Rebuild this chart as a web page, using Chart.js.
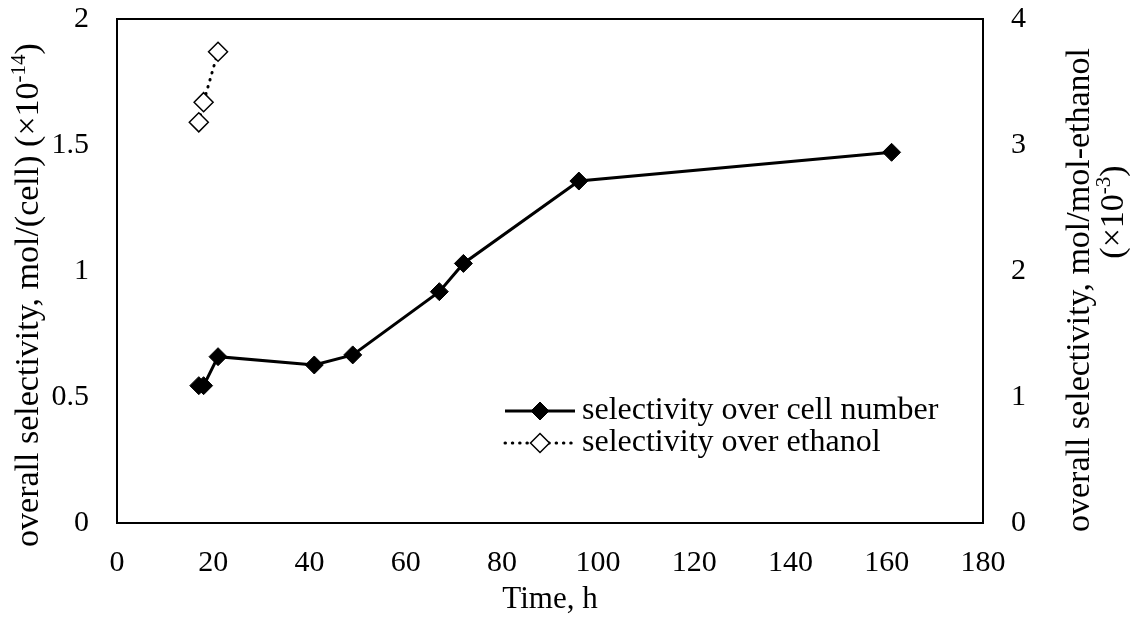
<!DOCTYPE html>
<html>
<head>
<meta charset="utf-8">
<script src="https://cdn.jsdelivr.net/npm/chart.js@4.4.1/dist/chart.umd.min.js"></script>
<style>
  html, body { margin: 0; padding: 0; background: #fff; }
  #wrap { width: 1130px; height: 627px; }
</style>
</head>
<body>
<div id="wrap"><canvas id="c" width="1130" height="627"></canvas></div>
<script>
// ---- data ----
const cellTime = [17, 18, 21, 41, 49, 67, 72, 96, 161];
const cellSel = [0.545, 0.545, 0.66, 0.627, 0.667, 0.918, 1.03, 1.357, 1.471];
const ethTime = [17, 18, 21];
const ethSel = [3.18, 3.34, 3.74];
const xTicks = [0, 20, 40, 60, 80, 100, 120, 140, 160, 180];
const yTicks = [0, 0.5, 1, 1.5, 2];
const y2Ticks = [0, 1, 2, 3, 4];
const seriesNames = ['selectivity over cell number', 'selectivity over ethanol'];
const xTitle = 'Time, h';
const yTitle = [{t: 'overall selectivity, mol/(cell) (\u00d710'}, {t: '-14', sup: true}, {t: ')'}];
const y2Title1 = [{t: 'overall selectivity, mol/mol-ethanol'}];
const y2Title2 = [{t: '(\u00d710'}, {t: '-3', sup: true}, {t: ')'}];

const FONT = '"Liberation Serif", "Times New Roman", serif';
const TICK_FS = 30;

function richWidth(ctx, segs, fs) {
  let w = 0;
  segs.forEach(s => {
    ctx.font = (s.sup ? Math.round(fs * 0.62) : fs) + 'px ' + FONT;
    w += ctx.measureText(s.t).width;
  });
  return w;
}
function drawRich(ctx, segs, cx, cy, fs) {
  const w = richWidth(ctx, segs, fs);
  let x = cx - w / 2;
  ctx.textAlign = 'left';
  ctx.textBaseline = 'alphabetic';
  const base = cy + fs * 0.33;
  segs.forEach(s => {
    const f = s.sup ? Math.round(fs * 0.62) : fs;
    ctx.font = f + 'px ' + FONT;
    ctx.fillText(s.t, x, s.sup ? base - fs * 0.38 : base);
    x += ctx.measureText(s.t).width;
  });
}

const decor = {
  id: 'decor',
  afterDraw(chart) {
    const ctx = chart.ctx;
    const a = chart.chartArea;
    ctx.save();
    // frame
    ctx.strokeStyle = '#000';
    ctx.lineWidth = 2;
    ctx.strokeRect(a.left, a.top, a.right - a.left, a.bottom - a.top);
    ctx.fillStyle = '#000';
    // x title
    drawRich(ctx, [{t: xTitle}], (a.left + a.right) / 2, 598, 31);
    // left title
    ctx.save();
    ctx.translate(27, 295);
    ctx.rotate(-Math.PI / 2);
    drawRich(ctx, yTitle, 0, 0, 34);
    ctx.restore();
    // right title
    ctx.save();
    ctx.translate(1078, 290);
    ctx.rotate(-Math.PI / 2);
    drawRich(ctx, y2Title1, 0, 0, 34);
    ctx.restore();
    ctx.save();
    ctx.translate(1112, 212);
    ctx.rotate(-Math.PI / 2);
    drawRich(ctx, y2Title2, 0, 0, 34);
    ctx.restore();
    // legend
    const ds = chart.data.datasets;
    const rows = [411, 443];
    ds.forEach((d, i) => {
      const y = rows[i];
      ctx.save();
      ctx.strokeStyle = d.borderColor;
      ctx.lineWidth = d.borderWidth;
      ctx.lineCap = d.borderCapStyle || 'butt';
      ctx.setLineDash(d.borderDash || []);
      ctx.beginPath();
      ctx.moveTo(505, y);
      ctx.lineTo(575, y);
      ctx.stroke();
      ctx.setLineDash([]);
      ctx.fillStyle = d.pointBackgroundColor;
      ctx.strokeStyle = d.pointBorderColor;
      ctx.lineWidth = d.pointBorderWidth;
      ctx.beginPath();
      ctx.moveTo(540, y - d.pointRadius);
      ctx.lineTo(540 + d.pointRadius, y);
      ctx.lineTo(540, y + d.pointRadius);
      ctx.lineTo(540 - d.pointRadius, y);
      ctx.closePath();
      ctx.fill();
      ctx.stroke();
      ctx.restore();
      ctx.fillStyle = '#000';
      ctx.font = '32px ' + FONT;
      ctx.textAlign = 'left';
      ctx.textBaseline = 'middle';
      ctx.fillText(seriesNames[i], 582, y);
    });
    ctx.restore();
  }
};

const tickFont = { family: FONT, size: TICK_FS };
function fixV(width) {
  return s => { s.width = width; s.paddingTop = 0; s.paddingBottom = 0; };
}

new Chart(document.getElementById('c'), {
  type: 'scatter',
  data: {
    datasets: [
      {
        label: seriesNames[0],
        data: cellTime.map((t, i) => ({ x: t, y: cellSel[i] })),
        yAxisID: 'y',
        showLine: true,
        borderColor: '#000',
        borderWidth: 3,
        pointStyle: 'rectRot',
        pointRadius: 9,
        pointBackgroundColor: '#000',
        pointBorderColor: '#000',
        pointBorderWidth: 1,
        borderCapStyle: 'butt'
      },
      {
        label: seriesNames[1],
        data: ethTime.map((t, i) => ({ x: t, y: ethSel[i] })),
        yAxisID: 'y2',
        showLine: true,
        borderColor: '#000',
        borderWidth: 3,
        borderDash: [0.5, 6.8],
        borderCapStyle: 'round',
        pointStyle: 'rectRot',
        pointRadius: 9.5,
        pointBackgroundColor: '#fff',
        pointBorderColor: '#000',
        pointBorderWidth: 1.5
      }
    ]
  },
  options: {
    responsive: false,
    animation: false,
    layout: { padding: { top: 19, left: 0, right: 0, bottom: 0 } },
    plugins: { legend: { display: false }, tooltip: { enabled: false } },
    scales: {
      x: {
        type: 'linear', min: 0, max: 180,
        afterBuildTicks: s => { s.ticks = xTicks.map(v => ({ value: v })); },
        ticks: { font: tickFont, color: '#000', padding: 22, maxRotation: 0, autoSkip: false },
        grid: { display: false, drawTicks: false },
        border: { display: false },
        afterFit: s => { s.height = 104; s.paddingLeft = 0; s.paddingRight = 0; }
      },
      y: {
        position: 'left', min: 0, max: 2,
        afterBuildTicks: s => { s.ticks = yTicks.map(v => ({ value: v })); },
        ticks: { font: tickFont, color: '#000', padding: 28, callback: v => String(v) },
        grid: { display: false, drawTicks: false },
        border: { display: false },
        afterFit: fixV(117)
      },
      y2: {
        position: 'right', min: 0, max: 4,
        afterBuildTicks: s => { s.ticks = y2Ticks.map(v => ({ value: v })); },
        ticks: { font: tickFont, color: '#000', padding: 28, callback: v => String(v) },
        grid: { display: false, drawTicks: false },
        border: { display: false },
        afterFit: fixV(147)
      }
    }
  },
  plugins: [decor]
});
</script>
</body>
</html>
